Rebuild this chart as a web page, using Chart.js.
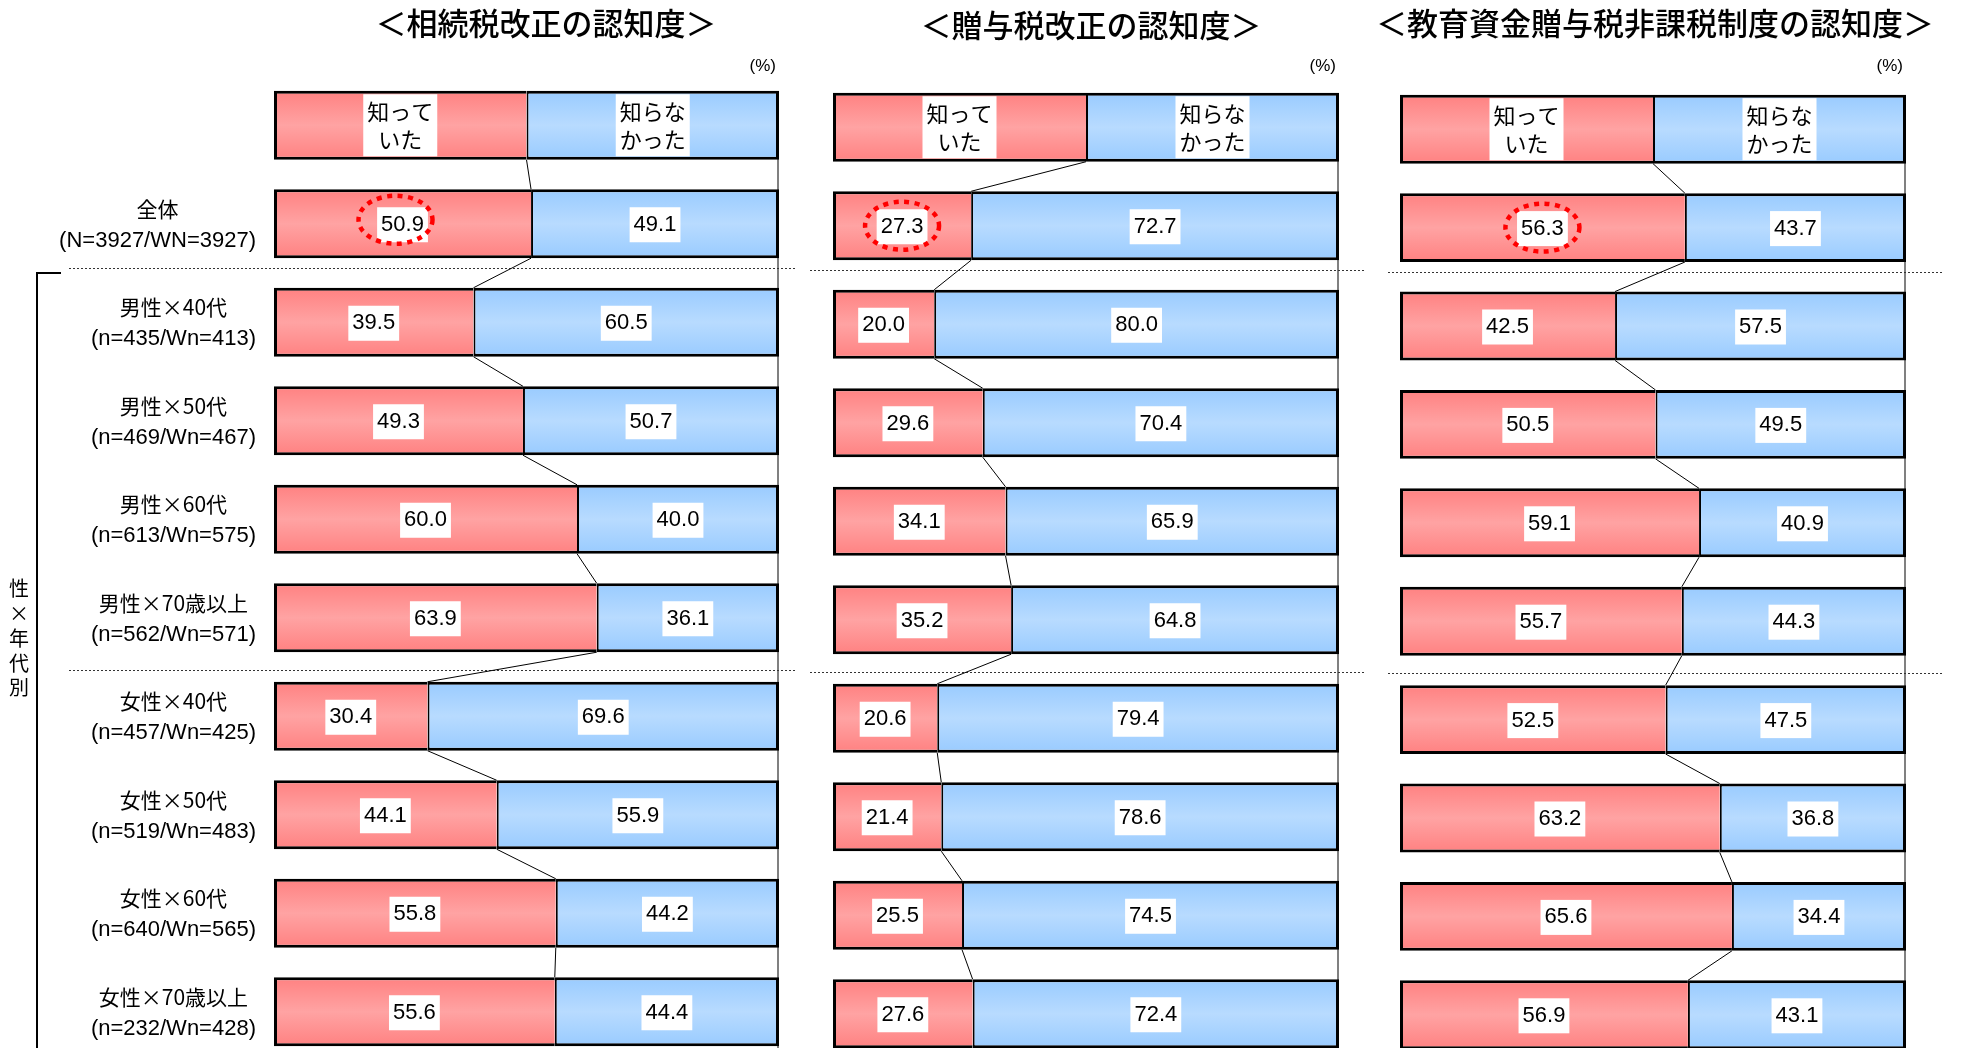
<!DOCTYPE html>
<html lang="ja">
<head>
<meta charset="utf-8">
<title>認知度</title>
<script src="https://cdn.jsdelivr.net/npm/chart.js@4.4.1/dist/chart.umd.min.js"></script>
<style>
  html, body { margin: 0; padding: 0; background: #fff; width: 1969px; height: 1048px; overflow: hidden; }
  canvas { position: absolute; top: 0; }
</style>
</head>
<body>
<canvas id="chart-inherit" width="800" height="1070" style="left:0"></canvas>
<canvas id="chart-gift" width="575" height="1070" style="left:800px"></canvas>
<canvas id="chart-edu" width="594" height="1070" style="left:1375px"></canvas>
<script>
// row categories (first row is the answer legend bar)
const categories = ['', '全体', '男性×40代', '男性×50代', '男性×60代', '男性×70歳以上',
    '女性×40代', '女性×50代', '女性×60代', '女性×70歳以上'];
const sampleSizes = ['', '(N=3927/WN=3927)', '(n=435/Wn=413)', '(n=469/Wn=467)', '(n=613/Wn=575)',
    '(n=562/Wn=571)', '(n=457/Wn=425)', '(n=519/Wn=483)', '(n=640/Wn=565)', '(n=232/Wn=428)'];
const answerLabels = [['知って', 'いた'], ['知らな', 'かった']];
const headerShare = [50, 50];
const titles = ['＜相続税改正の認知度＞', '＜贈与税改正の認知度＞', '＜教育資金贈与税非課税制度の認知度＞'];
const sideLabel = ['性', '×', '年', '代', '別'];

const inheritKnew = [50.9, 39.5, 49.3, 60.0, 63.9, 30.4, 44.1, 55.8, 55.6];
const inheritNot  = [49.1, 60.5, 50.7, 40.0, 36.1, 69.6, 55.9, 44.2, 44.4];
const giftKnew = [27.3, 20.0, 29.6, 34.1, 35.2, 20.6, 21.4, 25.5, 27.6];
const giftNot  = [72.7, 80.0, 70.4, 65.9, 64.8, 79.4, 78.6, 74.5, 72.4];
const eduKnew = [56.3, 42.5, 50.5, 59.1, 55.7, 52.5, 63.2, 65.6, 56.9];
const eduNot  = [43.7, 57.5, 49.5, 40.9, 44.3, 47.5, 36.8, 34.4, 43.1];

const BAR_PCT = 0.7;
const RED_EDGE = '#ff8181', RED_MID = '#ffa3a3';
const BLUE_EDGE = '#99cbff', BLUE_MID = '#b8dbff';
const JP = '"Noto Sans CJK JP", "Noto Sans", sans-serif';
const NUM = '"Liberation Sans", Arial, ' + JP;

const panels = [
    { id: 'chart-inherit', knew: inheritKnew, not: inheritNot, title: titles[0],
      pad: { left: 274, right: 21, top: 76, bottom: 9 }, titleX: 546, titleY: 23,
      sep: [69, 795], ellipse: { dx: -7, dy: -4 }, rowLabels: true },
    { id: 'chart-gift', knew: giftKnew, not: giftNot, title: titles[1],
      pad: { left: 33, right: 36, top: 78, bottom: 7 }, titleX: 291, titleY: 25,
      sep: [10, 566], ellipse: { dx: 0, dy: 0 }, rowLabels: false },
    { id: 'chart-edu', knew: eduKnew, not: eduNot, title: titles[2],
      pad: { left: 25, right: 63, top: 80, bottom: 6 }, titleX: 280, titleY: 23,
      sep: [13, 569], ellipse: { dx: 0, dy: 0 }, rowLabels: false }
];

function barHalf(y) {
    return (y.height / categories.length) * BAR_PCT / 2;
}

function barGradient(edge, mid) {
    return (c) => {
        const chart = c.chart;
        const y = chart.scales.y;
        if (c.type !== 'data' || !chart.chartArea || !y) return mid;
        const center = y.getPixelForValue(c.dataIndex);
        const h = barHalf(y);
        const g = chart.ctx.createLinearGradient(0, center - h, 0, center + h);
        g.addColorStop(0, edge);
        g.addColorStop(0.5, mid);
        g.addColorStop(1, edge);
        return g;
    };
}

function boxedText(ctx, lines, cx, cy, lineGap, boxH) {
    const w = Math.max(...lines.map(l => ctx.measureText(l).width));
    ctx.fillStyle = '#fff';
    ctx.fillRect(cx - w / 2 - 4, cy - boxH / 2, w + 8, boxH);
    ctx.fillStyle = '#000';
    lines.forEach((l, k) => {
        ctx.fillText(l, cx, cy + (k - (lines.length - 1) / 2) * lineGap);
    });
}

function makePanel(panel) {
    const knewAll = [headerShare[0], ...panel.knew];
    const notAll = [headerShare[1], ...panel.not];

    const overlay = {
        id: 'overlay',
        beforeDatasetsDraw(chart) {
            const { ctx, scales: { x, y } } = chart;
            const half = barHalf(y);
            const x100 = x.getPixelForValue(100);
            ctx.save();
            // 100% reference line
            ctx.strokeStyle = '#808080';
            ctx.lineWidth = 2;
            ctx.beginPath();
            ctx.moveTo(x100 - 1, y.getPixelForValue(0));
            ctx.lineTo(x100 - 1, chart.height);
            ctx.stroke();
            // dotted group separators
            ctx.strokeStyle = '#333';
            ctx.lineWidth = 1;
            ctx.setLineDash([2, 2]);
            [[1, 2, -5], [5, 6, 3]].forEach(([a, b, off]) => {
                const yy = Math.round((y.getPixelForValue(a) + y.getPixelForValue(b)) / 2 + off) + 0.5;
                ctx.beginPath();
                ctx.moveTo(panel.sep[0], yy);
                ctx.lineTo(panel.sep[1], yy);
                ctx.stroke();
            });
            ctx.restore();
        },
        afterDatasetsDraw(chart) {
            const { ctx, scales: { x, y } } = chart;
            const half = barHalf(y);
            ctx.save();
            // series lines between bars
            ctx.strokeStyle = '#000';
            ctx.lineWidth = 1;
            for (let i = 0; i < knewAll.length - 1; i++) {
                ctx.beginPath();
                ctx.moveTo(x.getPixelForValue(knewAll[i]), y.getPixelForValue(i) + half);
                ctx.lineTo(x.getPixelForValue(knewAll[i + 1]), y.getPixelForValue(i + 1) - half);
                ctx.stroke();
            }
            ctx.textAlign = 'center';
            ctx.textBaseline = 'middle';
            [0, 1].forEach(ds => {
                const meta = chart.getDatasetMeta(ds);
                meta.data.forEach((bar, i) => {
                    const { x: cx, y: cy } = bar.getCenterPoint();
                    if (i === 0) {
                        ctx.font = '22px ' + JP;
                        boxedText(ctx, answerLabels[ds], cx, cy, 28, 62);
                    } else {
                        ctx.font = '22px ' + NUM;
                        const val = chart.data.datasets[ds].data[i];
                        boxedText(ctx, [val.toFixed(1)], cx, cy + 1, 0, 35);
                    }
                });
            });
            // highlight on overall "knew" value
            const total = chart.getDatasetMeta(0).data[1].getCenterPoint();
            ctx.strokeStyle = '#ff0000';
            ctx.lineWidth = 4.5;
            ctx.setLineDash([5, 5.5]);
            ctx.beginPath();
            ctx.ellipse(total.x + panel.ellipse.dx, total.y + panel.ellipse.dy, 37, 24, 0, 0, Math.PI * 2);
            ctx.stroke();
            ctx.restore();
        },
        afterDraw(chart) {
            const { ctx, chartArea, scales: { y } } = chart;
            ctx.save();
            ctx.fillStyle = '#000';
            ctx.textBaseline = 'middle';
            ctx.textAlign = 'center';
            ctx.font = '500 31px ' + JP;
            ctx.fillText(panel.title, panel.titleX, panel.titleY);
            ctx.textAlign = 'right';
            ctx.font = '17px ' + NUM;
            ctx.fillText('(%)', chartArea.right - 3, 66);
            if (panel.rowLabels) {
                ctx.textAlign = 'center';
                for (let i = 1; i < categories.length; i++) {
                    const cy = y.getPixelForValue(i);
                    ctx.font = '21px ' + JP;
                    const w1 = ctx.measureText(categories[i]).width;
                    ctx.font = '22px ' + NUM;
                    const w2 = ctx.measureText(sampleSizes[i]).width;
                    const cx = 256 - Math.max(w1, w2) / 2;
                    ctx.font = '21px ' + JP;
                    ctx.fillText(categories[i], cx, cy - 15);
                    ctx.font = '22px ' + NUM;
                    ctx.fillText(sampleSizes[i], cx, cy + 17);
                }
                // bracket for the sex x age block
                const top = Math.round((y.getPixelForValue(1) + y.getPixelForValue(2)) / 2);
                ctx.strokeStyle = '#000';
                ctx.lineWidth = 2;
                ctx.beginPath();
                ctx.moveTo(61, top);
                ctx.lineTo(37, top);
                ctx.lineTo(37, chart.height);
                ctx.stroke();
                ctx.font = '20px ' + JP;
                const startY = y.getPixelForValue(5) - 29;
                sideLabel.forEach((ch, k) => ctx.fillText(ch, 19, startY + k * 24.75));
            }
            ctx.restore();
        }
    };

    return new Chart(document.getElementById(panel.id), {
        type: 'bar',
        data: {
            labels: categories,
            datasets: [
                {
                    label: '知っていた',
                    data: knewAll,
                    backgroundColor: barGradient(RED_EDGE, RED_MID),
                    borderColor: '#000',
                    borderWidth: { top: 3, bottom: 3, left: 3, right: 0 },
                    borderSkipped: false
                },
                {
                    label: '知らなかった',
                    data: notAll,
                    backgroundColor: barGradient(BLUE_EDGE, BLUE_MID),
                    borderColor: '#000',
                    borderWidth: { top: 3, bottom: 3, left: 2, right: 3 },
                    borderSkipped: false
                }
            ]
        },
        options: {
            indexAxis: 'y',
            responsive: false,
            animation: false,
            devicePixelRatio: 1,
            layout: { padding: panel.pad },
            datasets: { bar: { categoryPercentage: 1, barPercentage: BAR_PCT } },
            scales: {
                x: { stacked: true, min: 0, max: 100, display: false },
                y: { stacked: true, display: false }
            },
            plugins: {
                legend: { display: false },
                tooltip: { enabled: false },
                title: { display: false }
            }
        },
        plugins: [overlay]
    });
}

panels.forEach(makePanel);
</script>
</body>
</html>
